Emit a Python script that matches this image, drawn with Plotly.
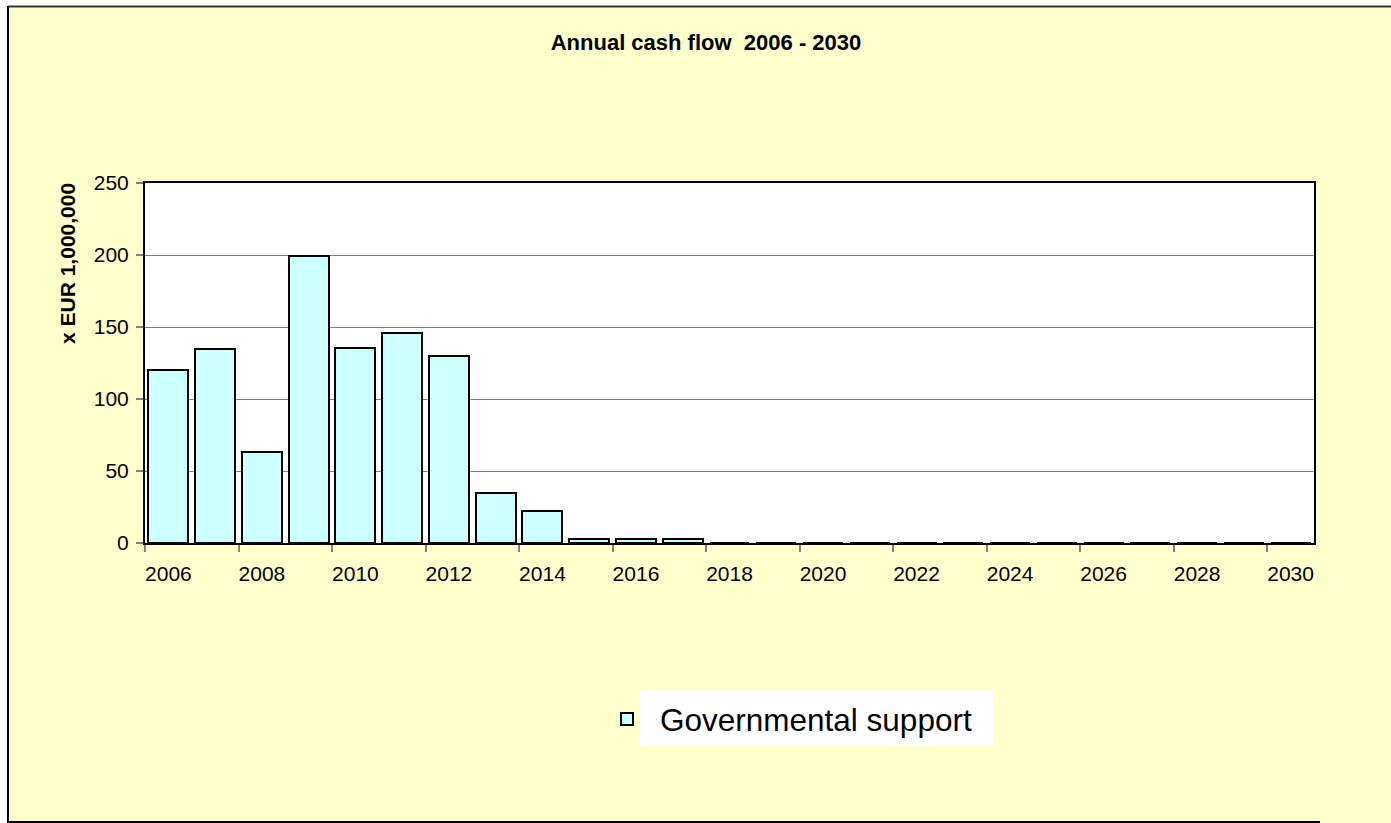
import plotly.graph_objects as go

# ---- data ----
years = list(range(2006, 2031))
governmental_support = [120, 135, 63.5, 199, 135.5, 145.5, 130, 34.7, 22, 2.8, 2.8, 2.8,
                        0, 0, 0, 0, 0, 0, 0, 0, 0, 0, 0, 0, 0]
tick_years = list(range(2006, 2031, 2))
y_ticks = [0, 50, 100, 150, 200, 250]

W, H = 1391, 823
L, R, T, B = 145, 1314, 183, 543  # plot area in px

def px_x(p):
    return (p - L) / (R - L)

def px_y(p):
    return (B - p) / (B - T)

FONT = "Liberation Sans, Arial, sans-serif"

fig = go.Figure()
fig.add_trace(go.Bar(
    x=years, y=governmental_support, name="Governmental support",
    width=0.855,
    marker=dict(color="#CCFFFF", line=dict(color="#000000", width=2)),
))

shapes = [
    # white strips outside the chart frame
    dict(type="rect", xref="paper", yref="paper", x0=px_x(-5), x1=px_x(8), y0=px_y(-5), y1=px_y(830),
         fillcolor="white", line=dict(width=0), layer="below"),
    dict(type="rect", xref="paper", yref="paper", x0=px_x(-5), x1=px_x(1400), y0=px_y(-5), y1=px_y(6),
         fillcolor="white", line=dict(width=0), layer="below"),
    # frame lines
    dict(type="line", xref="paper", yref="paper", x0=px_x(8), x1=px_x(8), y0=px_y(6), y1=px_y(823),
         line=dict(color="#000000", width=2)),
    dict(type="line", xref="paper", yref="paper", x0=px_x(8), x1=px_x(1400), y0=px_y(6.5), y1=px_y(6.5),
         line=dict(color="#333333", width=2)),
    dict(type="line", xref="paper", yref="paper", x0=px_x(8), x1=px_x(1320), y0=px_y(822), y1=px_y(822),
         line=dict(color="#000000", width=2)),
    # white box behind legend text
    dict(type="rect", xref="paper", yref="paper", x0=px_x(639), x1=px_x(993), y0=px_y(690), y1=px_y(746),
         fillcolor="white", line=dict(width=0), layer="above"),
]

annotations = [
    dict(text="<b>x EUR 1,000,000</b>", xref="paper", yref="paper",
         x=px_x(67), y=px_y(264), xanchor="center", yanchor="middle",
         textangle=-90, showarrow=False, font=dict(family=FONT, size=21, color="#000000")),
]

fig.update_layout(
    width=W, height=H,
    margin=dict(l=L, r=W - R, t=T, b=H - B, pad=0, autoexpand=False),
    paper_bgcolor="#FFFFCC",
    plot_bgcolor="white",
    font=dict(family=FONT, color="#000000", size=21),
    title=dict(text="<b>Annual cash flow  2006 - 2030</b>", xref="container", yref="container",
               x=706 / W, y=1 - 42 / H, xanchor="center", yanchor="middle",
               font=dict(family=FONT, size=22, color="#000000")),
    xaxis=dict(
        range=[2005.5, 2030.5], tickmode="array", tickvals=tick_years,
        ticktext=[str(t) for t in tick_years], tickangle=0,
        ticks="outside", ticklen=11, tickcolor="rgba(0,0,0,0)",
        showgrid=False, zeroline=False, automargin=False,
        showline=True, linecolor="#000000", linewidth=2, mirror=True,
        tickfont=dict(size=21),
        minor=dict(tickmode="array", tickvals=[y - 0.5 for y in tick_years],
                   ticks="outside", ticklen=7, tickcolor="#808080", tickwidth=1.5, showgrid=False),
    ),
    yaxis=dict(
        range=[0, 250], tickmode="array", tickvals=y_ticks,
        ticks="outside", ticklen=7, tickcolor="#808080", tickwidth=1.5,
        ticklabelstandoff=3,
        showgrid=True, gridcolor="#808080", gridwidth=1.2,
        zeroline=False, automargin=False,
        showline=True, linecolor="#000000", linewidth=2, mirror=True,
        tickfont=dict(size=21),
    ),
    showlegend=True,
    legend=dict(
        xref="container", yref="container", x=594 / W, y=1 - 719 / H,
        xanchor="left", yanchor="middle",
        bgcolor="rgba(0,0,0,0)", borderwidth=0,
        itemwidth=56,
        font=dict(family=FONT, size=31.5, color="#000000"),
    ),
    shapes=shapes,
    annotations=annotations,
    bargap=0,
)

fig.write_html("out.html")
